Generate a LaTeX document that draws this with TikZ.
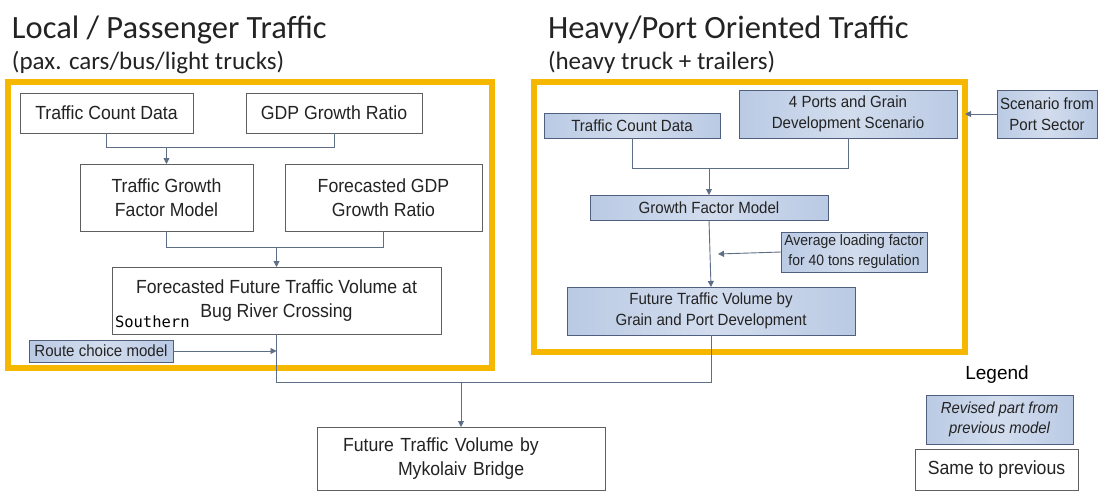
\documentclass[tikz,border=0pt]{standalone}
\usepackage{fontspec}
\setmainfont{Liberation Sans}
\newfontfamily\boxfont[FakeStretch=0.93]{Liberation Sans}
\newfontfamily\titlefont{Carlito}
\newfontfamily\southfont{DejaVu Sans Mono}
\usetikzlibrary{arrows.meta,calc}
\definecolor{ybox}{RGB}{245,183,0}
\definecolor{lineC}{RGB}{95,110,135}
\definecolor{blueFill}{RGB}{186,202,228}
\definecolor{blueDraw}{RGB}{80,95,125}
\definecolor{grayDraw}{RGB}{95,95,95}
\definecolor{txt}{RGB}{35,35,35}
\begin{document}
\begin{tikzpicture}[x=1pt,y=-1pt,
  every node/.style={inner sep=0pt, outer sep=0pt, text=txt},
  lbox/.style={draw=grayDraw, line width=0.9pt, fill=white, align=center,
    font=\boxfont\fontsize{19}{23.5}\selectfont},
  rbox/.style={draw=blueDraw, line width=0.9pt, left color=blueFill, right color=blueFill,
    middle color=blueFill!65!white, align=center,
    font=\boxfont\fontsize{16.2}{21}\selectfont},
  panel/.style={draw=ybox, line width=6pt, fill=none},
  conn/.style={draw=lineC, line width=0.9pt},
  arr/.style={conn, -{Triangle[width=6pt,length=6pt]}},
  ttl/.style={anchor=base west, font=\titlefont\fontsize{32.5}{38}\selectfont},
  subttl/.style={anchor=base west, font=\titlefont\fontsize{25}{30}\selectfont}
]
\useasboundingbox[fill=white] (0,0) rectangle (1100,493);

% titles
\node[ttl] (t1) at (12,38) {Local / Passenger Traffic};
\node[subttl] (s1) at (12,69) {(pax. cars/bus/light trucks)};
\node[ttl] (t2) at (548,38) {Heavy/Port Oriented Traffic};
\node[subttl] (s2) at (548,69) {(heavy truck + trailers)};

% yellow panels
\node[panel, minimum width=484, minimum height=286] (lpanel) at (250,225) {};
\node[panel, minimum width=431, minimum height=270] (rpanel) at (749.5,217) {};

% left panel boxes
\node[lbox, minimum width=173, minimum height=40] (tcdl) at (106.5,113) {Traffic Count Data};
\node[lbox, minimum width=176, minimum height=40] (gdp) at (334,113) {GDP Growth Ratio};
\node[lbox, minimum width=173, minimum height=67] (tgfm) at (166.5,197.5) {Traffic Growth\\Factor Model};
\node[lbox, minimum width=197, minimum height=67] (fgdp) at (383.5,197.5) {Forecasted GDP\\Growth Ratio};
\node[lbox, minimum width=329, minimum height=67] (fftv) at (276.5,300.5) {Forecasted Future Traffic Volume at\\Bug River Crossing};
\node[anchor=base west, font=\southfont\fontsize{15.5}{18}\selectfont, text=black] (south) at (115,327) {Southern};
\node[rbox, minimum width=144, minimum height=22] (route) at (101,351) {Route choice model};

% right panel boxes
\node[rbox, minimum width=176, minimum height=25] (tcdr) at (632,125.5) {Traffic Count Data};
\node[rbox, minimum width=218, minimum height=48] (ports) at (848,114) {4 Ports and Grain\\Development Scenario};
\node[rbox, minimum width=100, minimum height=48] (scen) at (1047,114) {Scenario from\\Port Sector};
\node[rbox, minimum width=238, minimum height=25] (gfm) at (709,207.5) {Growth Factor Model};
\node[rbox, minimum width=146, minimum height=40, font=\boxfont\fontsize{15}{20}\selectfont] (avg) at (854,252) {Average loading factor\\for 40 tons regulation};
\node[rbox, minimum width=288, minimum height=48] (ftv) at (711,311) {Future Traffic Volume by\\Grain and Port Development};

% final box
\node[lbox, minimum width=288, minimum height=63, text width=288pt, align=left] (final) at (461,458.5)
  {\hspace*{26pt}Future Traffic Volume by\\\hspace*{81pt}Mykolaiv Bridge};

% legend
\node[font=\fontsize{19}{22}\selectfont, text=black] (leg) at (997,375) {Legend};
\node[rbox, minimum width=147, minimum height=49, font=\boxfont\itshape\fontsize{16}{20}\selectfont] (legr) at (999.5,419.5) {Revised part from\\previous model};
\node[lbox, minimum width=163, minimum height=41] (legs) at (996.5,469.5) {Same to previous};

% left connectors
\coordinate (j1) at ($(tcdl.south)+(0,14)$);
\draw[conn] (tcdl.south) -- (j1) -- (j1 -| gdp.south) -- (gdp.south);
\draw[arr] (j1 -| tgfm.north) -- (tgfm.north);
\coordinate (j2) at ($(tgfm.south)+(0,16)$);
\draw[conn] (tgfm.south) -- (j2) -- (j2 -| fgdp.south) -- (fgdp.south);
\draw[arr] (j2 -| fftv.north) -- (fftv.north);
\coordinate (j3) at ($(fftv.south)+(0,48)$);
\draw[arr] (route.east) -- (route.east -| fftv.south);

% right connectors
\coordinate (k1) at ($(tcdr.south)+(0,30)$);
\draw[conn] (tcdr.south) -- (k1) -- (k1 -| ports.south) -- (ports.south);
\draw[arr] (k1 -| gfm.north) -- (gfm.north);
\draw[arr] (gfm.south) -- (ftv.north);
\draw[arr] (avg.west) -- ++(-63,2);
\draw[arr] (scen.west) -- (scen.west -| rpanel.east);

% merge to final
\draw[conn] (fftv.south) -- (j3) -- (j3 -| ftv.south) -- (ftv.south);
\draw[arr] (j3 -| final.north) -- (final.north);
\end{tikzpicture}
\end{document}
